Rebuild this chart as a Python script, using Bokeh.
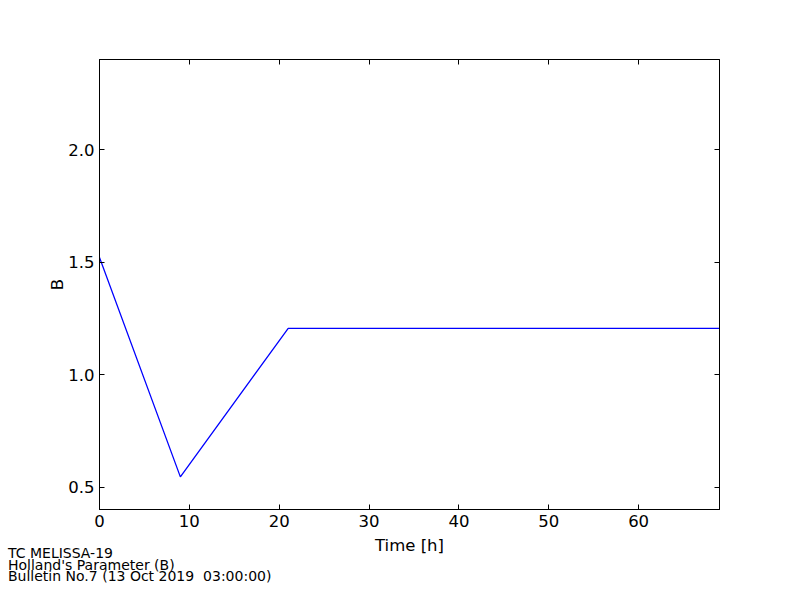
from bokeh.plotting import figure
from bokeh.models import LinearAxis, Range1d, FixedTicker, PrintfTickFormatter, Div
from bokeh.layouts import column
from bokeh.embed import file_html
from bokeh.resources import INLINE

hours = [0, 9, 21, 69]
holland_b = [1.52, 0.545, 1.205, 1.205]
x_ticks = [0, 10, 20, 30, 40, 50, 60]
y_ticks = [0.5, 1.0, 1.5, 2.0]
footnotes = ["TC MELISSA-19", "Holland's Parameter (B)", "Bulletin No.7 (13 Oct 2019  03:00:00)"]

FONT = "DejaVu Sans"

p = figure(width=784, height=584, output_backend="svg", toolbar_location=None,
           x_range=Range1d(0, 69), y_range=Range1d(0.4, 2.4),
           x_axis_location=None, y_axis_location=None,
           min_border_left=99, min_border_right=65, min_border_top=59, min_border_bottom=75)
p.background_fill_color = "white"
p.border_fill_color = "white"
p.outline_line_color = "black"
p.outline_line_width = 1
p.xgrid.visible = False
p.ygrid.visible = False

p.line(hours, holland_b, line_color="#0000ff", line_width=1.3)

bottom = LinearAxis(ticker=FixedTicker(ticks=x_ticks), axis_label="Time [h]")
left = LinearAxis(ticker=FixedTicker(ticks=y_ticks), axis_label="B",
                  formatter=PrintfTickFormatter(format="%.1f"))
top = LinearAxis(ticker=FixedTicker(ticks=x_ticks))
right = LinearAxis(ticker=FixedTicker(ticks=y_ticks))
p.add_layout(bottom, "below")
p.add_layout(left, "left")
p.add_layout(top, "above")
p.add_layout(right, "right")

for ax in (bottom, left, top, right):
    ax.major_tick_in = 5
    ax.major_tick_out = 0
    ax.minor_tick_line_color = None
    ax.axis_line_color = "black"
    ax.major_tick_line_color = "black"
    ax.major_label_text_font = FONT
    ax.axis_label_text_font = FONT
    ax.axis_label_text_font_style = "normal"
    ax.axis_label_text_color = "black"
    ax.major_label_text_color = "black"

for ax in (top, right):
    ax.major_label_text_font_size = "0px"
    ax.major_label_standoff = 0

for ax in (bottom, left):
    ax.major_label_text_font_size = "16.5px"
    ax.axis_label_text_font_size = "16.5px"
    ax.major_label_standoff = 5
bottom.axis_label_standoff = 6
left.axis_label_standoff = -2

note = Div(text="\n".join(footnotes), width=400, height=36, margin=(-36, 0, 0, 8),
           styles={"font-family": FONT, "font-size": "14px", "line-height": "11.6px",
                   "white-space": "pre", "color": "black"})

layout = column(p, note, spacing=0)

open("out.html", "w").write(file_html(layout, INLINE))
